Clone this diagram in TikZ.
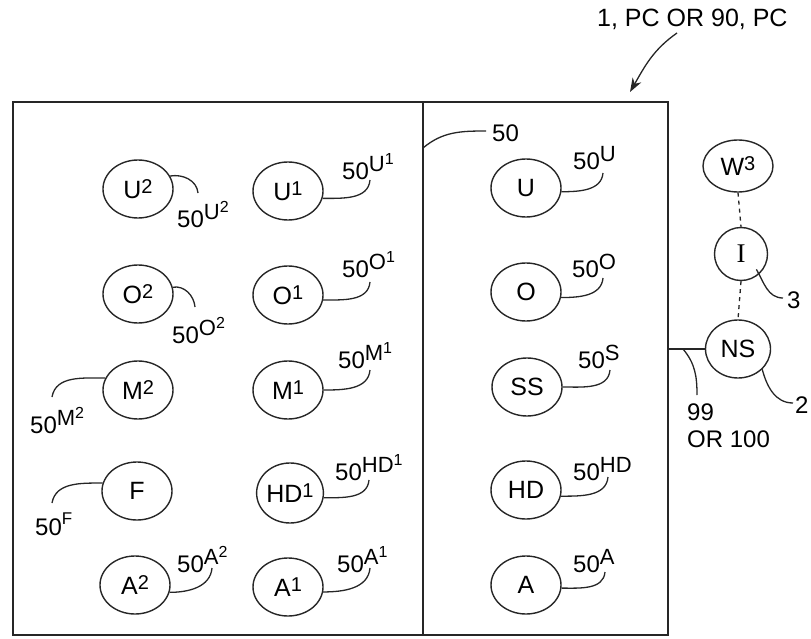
\documentclass[tikz,border=0pt]{standalone}
\usepackage{fontspec}
\setmainfont{Liberation Sans}
\newfontfamily\serifI{Liberation Serif}
\usetikzlibrary{shapes.geometric,arrows.meta,calc}
\newcommand\refl[2]{50\raisebox{8pt}{\fontsize{22}{22}\selectfont #1\raisebox{7pt}{\fontsize{16}{16}\selectfont #2}}}
\newcommand\refsm[1]{50\raisebox{11pt}{\fontsize{17}{17}\selectfont #1}}
\newcommand\el[2]{#1\raisebox{5pt}{\fontsize{20}{20}\selectfont #2}}
\tikzset{
  boxline/.style={line width=1.6pt, draw=black!85},
  ell/.style={draw=black!85, ellipse, line width=1.4pt, minimum width=70pt, minimum height=58pt, inner sep=0pt, font=\fontsize{25}{27}\selectfont},
  lead/.style={line width=1.3pt, draw=black!85},
  lbl/.style={inner sep=0pt, anchor=base west, font=\fontsize{24}{28}\selectfont},
  dashlink/.style={line width=1.3pt, draw=black!85, dash pattern=on 4pt off 4pt},
}
\begin{document}
\begin{tikzpicture}[x=1pt,y=1pt]
\useasboundingbox (0,0) rectangle (811,-639);
% frame and divider
\draw[boxline] (13,-102) rectangle (668,-635);
\coordinate (dtop) at (423,-102);
\coordinate (dbot) at (423,-635);
\draw[boxline] (dtop) -- (dbot);

% ellipses
\node[ell] (u2) at (138,-189) {\el{U}{2}};
\node[ell] (o2) at (138,-294) {\el{O}{2}};
\node[ell] (m2) at (138,-390) {\el{M}{2}};
\node[ell] (f)  at (137,-491) {F};
\node[ell] (a2) at (135,-585) {\el{A}{2}};
\node[ell] (u1) at (288,-191) {\el{U}{1}};
\node[ell] (o1) at (288,-295) {\el{O}{1}};
\node[ell] (m1) at (288,-390) {\el{M}{1}};
\node[ell, minimum width=66pt, minimum height=60pt] (hd1) at (290,-493) {\el{HD}{1}};
\node[ell] (a1) at (288,-587) {\el{A}{1}};
\node[ell] (u)  at (526,-188) {U};
\node[ell] (o)  at (526,-292) {O};
\node[ell] (ss) at (527,-387) {SS};
\node[ell] (hd) at (526,-490) {HD};
\node[ell] (a)  at (526,-585) {A};
\node[ell, minimum height=52pt] (w3) at (738,-166) {\el{W}{3}};
\node[ell, minimum width=53pt, minimum height=53pt] (i) at (741,-254) {\serifI\fontsize{27}{28}\selectfont I};
\node[ell, minimum width=65pt] (ns) at (738,-349) {NS};

% labels
\node[lbl] (lu2)  at (177,-227) {\refl{U}{2}};
\node[lbl] (lu1)  at (342,-180) {\refl{U}{1}};
\node[lbl] (lo2)  at (172,-343) {\refl{O}{2}};
\node[lbl] (lo1)  at (342,-277) {\refl{O}{1}};
\node[lbl] (lm2)  at (30,-433)  {\refl{M}{2}};
\node[lbl] (lm1)  at (338,-368) {\refl{M}{1}};
\node[lbl] (lf)   at (35,-535)  {\refsm{F}};
\node[lbl] (lhd1) at (335,-480) {\refl{HD}{1}};
\node[lbl] (la2)  at (177,-572) {\refl{A}{2}};
\node[lbl] (la1)  at (337,-572) {\refl{A}{1}};
\node[lbl] (lu)   at (573,-170) {\refl{U}{}};
\node[lbl] (lo)   at (572,-277) {\refl{O}{}};
\node[lbl] (ls)   at (578,-368) {\refl{S}{}};
\node[lbl] (lhd)  at (573,-480) {\refl{HD}{}};
\node[lbl] (la)   at (573,-572) {\refl{A}{}};
\node[lbl] (l50)  at (492,-142) {50};
\node[lbl, font=\fontsize{25}{28}\selectfont] (title) at (597,-27) {1, PC OR 90, PC};
\node[lbl] (l3)   at (787,-308) {3};
\node[lbl] (l2)   at (795,-413) {2};
\node[lbl] (l99)  at (687,-420) {99};
\node[lbl] (l100) at (687,-447) {OR 100};

% leader end points
\coordinate (eu2) at (198,-193);
\coordinate (eu1) at (370,-180);
\coordinate (eo2) at (195,-307);
\coordinate (eo1) at (370,-282);
\coordinate (em2) at (52,-397);
\coordinate (em1) at (370,-370);
\coordinate (ef)  at (52,-503);
\coordinate (ehd1) at (369,-480);
\coordinate (ea2) at (212,-568);
\coordinate (ea1) at (370,-568);
\coordinate (eu)  at (603,-173);
\coordinate (eo)  at (603,-278);
\coordinate (es)  at (610,-370);
\coordinate (ehd) at (608,-477);
\coordinate (ea)  at (605,-572);
\coordinate (e50) at (486,-131);
\coordinate (d50) at (423,-148);
\coordinate (e3)  at (783,-298);
\coordinate (e2)  at (793,-403);
\coordinate (nsl) at (668,-349);
\coordinate (p99) at (683,-349);
\coordinate (e99) at (697,-395);
\coordinate (ts)  at (677,-33);
\coordinate (tt)  at (630,-92);

% leaders
\draw[lead] (u2.22)  to[out=10,in=95]  (eu2);
\draw[lead] (u1.-12) to[out=0,in=-95]  (eu1);
\draw[lead] (o2.11)  to[out=10,in=95]  (eo2);
\draw[lead] (o1.-8)  to[out=0,in=-95]  (eo1);
\draw[lead] (m2.160) to[out=180,in=80] (em2);
\draw[lead] (m1.0)   to[out=0,in=-95]  (em1);
\draw[lead] (f.167)  to[out=180,in=80] (ef);
\draw[lead] (hd1.-8) to[out=0,in=-95]  (ehd1);
\draw[lead] (a2.-12) to[out=0,in=-95]  (ea2);
\draw[lead] (a1.-8)  to[out=0,in=-95]  (ea1);
\draw[lead] (u.-6)   to[out=0,in=-95]  (eu);
\draw[lead] (o.-9)   to[out=0,in=-95]  (eo);
\draw[lead] (ss.0)   to[out=0,in=-95]  (es);
\draw[lead] (hd.-10) to[out=0,in=-95]  (ehd);
\draw[lead] (a.-5)   to[out=0,in=-95]  (ea);
\draw[lead] (d50)    to[out=40,in=180] (e50);
\draw[lead] ($(i.center)!0.8!(i.-45)$) to[out=-60,in=180] (e3);
\draw[lead] (ns.-40) to[out=-75,in=180] (e2);

% links on the right
\draw[boxline] (nsl) -- (ns.west);
\draw[lead] (p99) to[out=-50,in=90] (e99);
\draw[dashlink] (w3.south) -- (i.north);
\draw[dashlink] (i.south) -- (ns.north);

% top arrow
\draw[lead, -{Stealth[length=14pt,width=10pt]}] (ts) to[out=215,in=60] (tt);
\end{tikzpicture}
\end{document}
